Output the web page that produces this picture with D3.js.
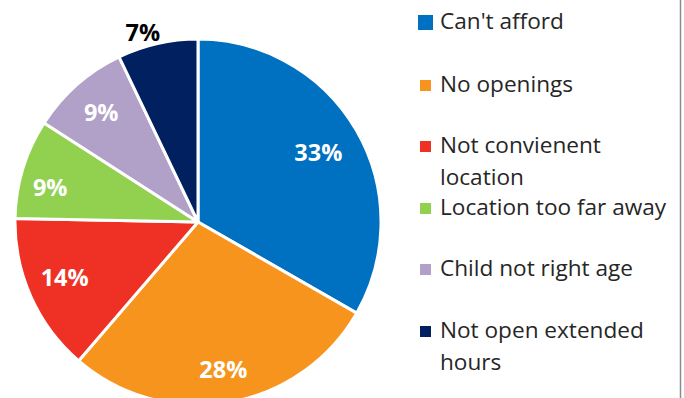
<!DOCTYPE html>
<html>
<head>
<meta charset="utf-8">
<script src="https://cdn.jsdelivr.net/npm/d3@7"></script>
<style>
  body { margin: 0; background: #fff; }
  svg { display: block; }
</style>
</head>
<body>
<div id="chart"></div>
<script>
// reasons for not using child care (share of responses, %)
var categories = ["Can't afford", "No openings", "Not convienent location", "Location too far away", "Child not right age", "Not open extended hours"];
var values = [33.3, 28.0, 14.0, 8.8, 8.8, 7.1];
var colors = ["#0070C0", "#F7941D", "#EE3124", "#92D050", "#B1A0C7", "#002060"];
// legend text, wrapped the way the original does
var legendLines = [["Can't afford"], ["No openings"], ["Not convienent", "location"], ["Location too far away"], ["Child not right age"], ["Not open extended", "hours"]];

var width = 684, height = 398;
var cx = 198, cy = 222, radius = 183;

var svg = d3.select("#chart").append("svg")
    .attr("width", width)
    .attr("height", height);

// chart area border on the right
svg.append("line")
    .attr("x1", 680.5).attr("x2", 680.5)
    .attr("y1", 0).attr("y2", height)
    .attr("stroke", "#8c8c8c")
    .attr("stroke-width", 1.5);

var pie = d3.pie().sort(null).value(function(d){ return d; });
var arcs = pie(values);

var arc = d3.arc().innerRadius(0).outerRadius(radius);

var g = svg.append("g").attr("transform", "translate(" + cx + "," + cy + ")");

g.selectAll(".slice")
    .data(arcs)
    .enter()
    .append("path")
    .attr("class", "slice")
    .attr("d", arc)
    .attr("fill", function(d, i){ return colors[i]; })
    .attr("stroke", "#fff")
    .attr("stroke-width", 3)
    .attr("stroke-linejoin", "round");

//label placement, fraction of radius (last one sits outside the pie)
var labelR = [0.76, 0.82, 0.79, 0.83, 0.8, 1.08];
var labelShift = [0, 0, 0.024, -0.063, 0, -0.06];

g.selectAll(".pct")
    .data(arcs)
    .enter()
    .append("text")
    .attr("class", "pct")
    .attr("x", function(d, i){
        var a = (d.startAngle + d.endAngle) / 2 + labelShift[i];
        return Math.sin(a) * radius * labelR[i];
    })
    .attr("y", function(d, i){
        var a = (d.startAngle + d.endAngle) / 2 + labelShift[i];
        return -Math.cos(a) * radius * labelR[i];
    })
    .attr("dy", "0.36em")
    .attr("text-anchor", "middle")
    .attr("font-family", "'Open Sans', sans-serif")
    .attr("font-weight", "bold")
    .attr("font-size", 23.5)
    .attr("fill", function(d, i){ return i == values.length - 1 ? "#000" : "#fff"; })
    .text(function(d){ return Math.round(d.data) + "%"; });

// legend
var rowY = [29, 92, 153, 215, 276, 338];
var legend = svg.selectAll(".legend")
    .data(categories)
    .enter()
    .append("g")
    .attr("class", "legend")
    .attr("transform", function(d, i){ return "translate(0," + rowY[i] + ")"; });

legend.append("rect")
    .attr("x", function(d, i){ return i == 0 ? 418 : 420; })
    .attr("y", function(d, i){ return i == 0 ? -14 : -12; })
    .attr("width", function(d, i){ return i == 0 ? 15 : 11; })
    .attr("height", function(d, i){ return i == 0 ? 15 : 11; })
    .attr("fill", function(d, i){ return colors[i]; });

legend.append("text")
    .attr("x", 440)
    .attr("y", 0)
    .attr("font-family", "'Open Sans', sans-serif")
    .attr("font-size", 22.6)
    .attr("fill", "#262626")
    .selectAll("tspan")
    .data(function(d, i){ return legendLines[i]; })
    .enter()
    .append("tspan")
    .attr("x", 440)
    .attr("dy", function(d, j){ return j == 0 ? 0 : 32; })
    .text(function(d){ return d; });
</script>
</body>
</html>
